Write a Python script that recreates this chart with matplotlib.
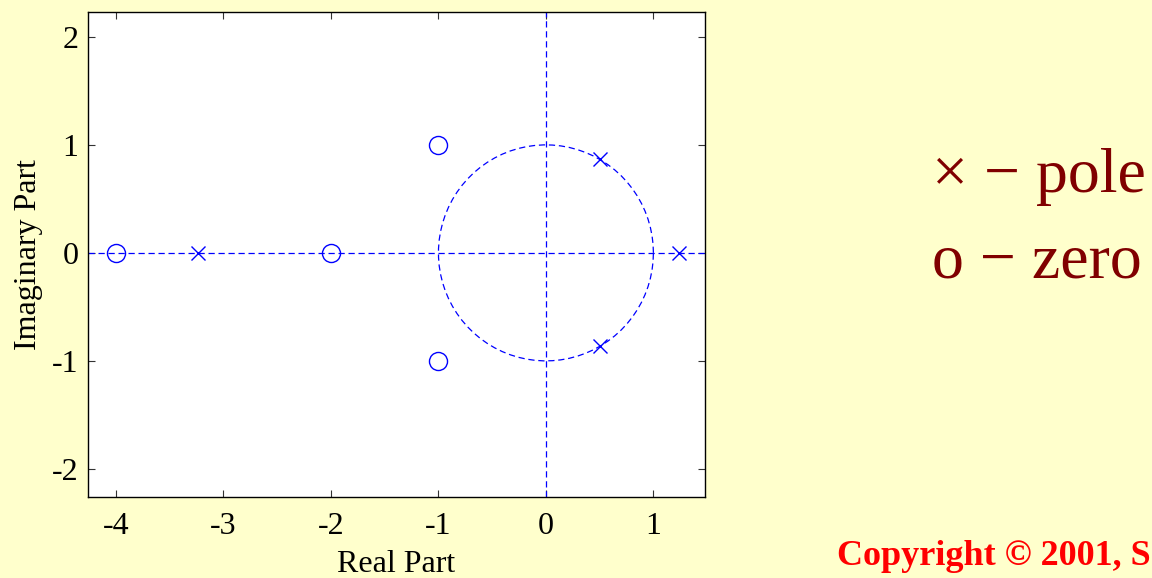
import numpy as np
import matplotlib
matplotlib.use("Agg")
import matplotlib.pyplot as plt

plt.rcParams['font.family'] = ['Liberation Serif', 'DejaVu Serif']
plt.rcParams['axes.unicode_minus'] = False

pole_re = [-3.236, 1.236, 0.5, 0.5]
pole_im = [0.0, 0.0, 0.866, -0.866]
zero_re = [-4.0, -2.0, -1.0, -1.0]
zero_im = [0.0, 0.0, 1.0, -1.0]
xticks = [-4, -3, -2, -1, 0, 1]
yticks = [-2, -1, 0, 1, 2]

fig = plt.figure(figsize=(11.52, 5.78), dpi=100, facecolor='#FFFFCC')
ax = fig.add_axes([88/1152, 1-497/578, (705-88)/1152, (497-12)/578])
ax.set_facecolor('white')

xlim = (-4.26, 1.48)
ylim = (-2.26, 2.23)
blue = '#0000FF'
ax.axhline(0, color=blue, ls=(0, (5, 3)), lw=0.9)
ax.axvline(0, color=blue, ls=(0, (5, 3)), lw=0.9)
t = np.linspace(0, 2*np.pi, 80)
ax.plot(np.cos(t), np.sin(t), color=blue, ls=(0, (5, 3)), lw=0.9)
ax.plot(pole_re, pole_im, 'x', color=blue, ms=10, mew=1.0, ls='none')
ax.plot(zero_re, zero_im, 'o', color=blue, mfc='none', ms=13, mew=1.0, ls='none')

ax.set_xlim(*xlim)
ax.set_ylim(*ylim)
ax.set_xticks(xticks)
ax.set_yticks(yticks)
ax.tick_params(direction='in', length=5, width=0.8, top=True, right=True,
               labelsize=23, color='#333333')
ax.tick_params(axis='x', pad=11)
ax.tick_params(axis='y', pad=7)
for s in ax.spines.values():
    s.set_linewidth(1.0)
ax.set_xlabel('Real Part', fontsize=23, labelpad=6)
ax.set_ylabel('Imaginary Part', fontsize=23, labelpad=6)

fig.text(932/1152, 1-192/578, '\u00d7 \u2212 pole', fontsize=46, color='#800000')
fig.text(932/1152, 1-277/578, 'o \u2212 zero', fontsize=46, color='#800000')
fig.text(837/1152, 1-565/578, 'Copyright \u00a9 2001, S', fontsize=26,
         fontweight='bold', color='#FF0000')

fig.savefig('out.png', dpi=100, facecolor=fig.get_facecolor())
